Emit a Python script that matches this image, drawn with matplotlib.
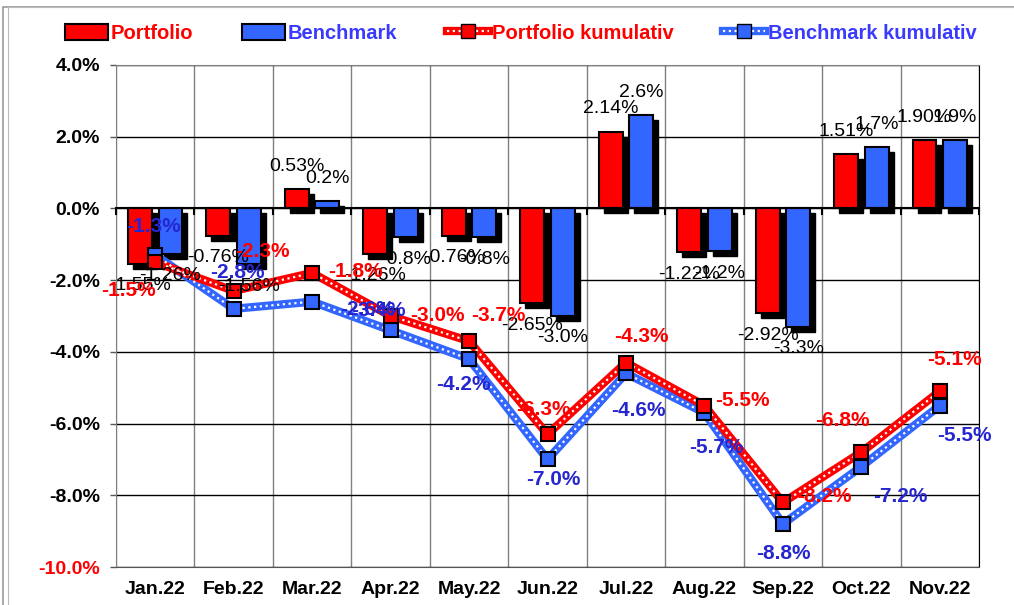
import numpy as np
import matplotlib
matplotlib.use("Agg")
import matplotlib.pyplot as plt
from matplotlib import transforms
from matplotlib.patches import Patch, Rectangle
from matplotlib.lines import Line2D

plt.rcParams['font.family'] = ['Liberation Sans', 'DejaVu Sans']

months = ['Jan.22', 'Feb.22', 'Mar.22', 'Apr.22', 'May.22', 'Jun.22',
          'Jul.22', 'Aug.22', 'Sep.22', 'Oct.22', 'Nov.22']
portfolio = [-1.55, -0.76, 0.53, -1.26, -0.76, -2.65, 2.14, -1.22, -2.92, 1.51, 1.90]
benchmark = [-1.26, -1.56, 0.2, -0.8, -0.8, -3.0, 2.6, -1.2, -3.3, 1.7, 1.9]
portfolio_cum = [-1.5, -2.3, -1.8, -3.0, -3.7, -6.3, -4.3, -5.5, -8.2, -6.8, -5.1]
benchmark_cum = [-1.3, -2.8, -2.6, -3.4, -4.2, -7.0, -4.6, -5.7, -8.8, -7.2, -5.5]

# label offsets in pixels (hand placed in the original)
p_cum_off = [(-27, -28), (29, 39), (43, 1), (47, 0), (29, 26), (-4, 25),
             (15, 26), (38, 5), (41, 6), (-19, 32), (15, 32)]
b_cum_off = [(-2, 29), (4, 36), (55, -8), (-12, 20), (-6, -25), (6, -20),
             (12, -37), (12, -35), (0, -30), (39, -30), (25, -30)]

RED = '#ff0000'
BLUE = '#3366ff'
BLUE_TXT = '#2626d0'

fig = plt.figure(figsize=(10.14, 6.05), dpi=100)
ax = fig.add_axes([0.1144, 0.0628, 0.8511, 0.8298])

x = np.arange(len(months))
w = 0.305
dx = 0.195

shadow = transforms.offset_copy(ax.transData, fig=fig, x=5, y=-5, units='dots')
for xs, vals, col in [(x - dx, portfolio, RED), (x + dx, benchmark, BLUE)]:
    ax.bar(xs, vals, w, color='black', edgecolor='black', transform=shadow, zorder=2)
    ax.bar(xs, vals, w, color=col, edgecolor='black', linewidth=1.5, zorder=3)

ax.axhline(0, color='black', lw=1.5, zorder=4)
for b in np.arange(-0.5, 11, 1):
    ax.plot([b, b], [0, -0.15], color='black', lw=1.5, zorder=4, clip_on=False)

# portfolio labels with two decimals, benchmark with one unless it has two
bar_labels = [(x - dx, portfolio, [f'{v:.2f}%' for v in portfolio]),
              (x + dx, benchmark, [f'{v:.2f}%' if round(v, 1) != v else f'{v:.1f}%'
                                   for v in benchmark])]
for xs, vals, texts in bar_labels:
    for xi, v, t in zip(xs, vals, texts):
        ax.annotate(t, (xi, v), xytext=(0, 23 if v > 0 else -22),
                    textcoords='offset pixels', ha='center', va='center',
                    fontsize=14, color='black', zorder=8)

for vals, col in [(benchmark_cum, BLUE), (portfolio_cum, RED)]:
    ax.plot(x, vals, color=col, lw=6, zorder=5, solid_joinstyle='miter')
    ax.plot(x, vals, color='white', lw=1.6, ls=(0, (1, 1.6)), zorder=6)
    ax.plot(x, vals, ls='none', marker='s', ms=10, mfc=col, mec='black', mew=1.5, zorder=7)

for vals, offs, col in [(portfolio_cum, p_cum_off, RED), (benchmark_cum, b_cum_off, BLUE_TXT)]:
    for xi, v, (ox, oy) in zip(x, vals, offs):
        ax.annotate(f'{v:.1f}%', (xi, v), xytext=(ox, oy), textcoords='offset pixels',
                    ha='center', va='center', fontsize=15, fontweight='bold',
                    color=col, zorder=9)

ax.set_xlim(-0.5, 10.5)
ax.set_ylim(-10, 4)
ax.set_yticks(np.arange(-10, 5, 2))
ax.set_yticklabels([f'{t:.1f}%' for t in np.arange(-10, 5, 2)], fontsize=14, fontweight='bold')
ax.get_yticklabels()[0].set_color(RED)
ax.set_xticks(x)
ax.set_xticklabels(months, fontsize=14, fontweight='bold')
ax.tick_params(axis='x', length=0, pad=10)
ax.tick_params(axis='y', length=4.5, width=1, color='#555555', pad=7)

ax.set_xticks(np.arange(-0.5, 11, 1), minor=True)
ax.grid(True, which='minor', axis='x', color='#808080', lw=1, zorder=0)
ax.grid(True, which='major', axis='y', color='black', lw=1, zorder=0)
ax.tick_params(axis='x', which='minor', length=0)
for s in ['top', 'left']:
    ax.spines[s].set_color('#808080')
ax.spines['right'].set_color('black')
ax.spines['bottom'].set_color('#555555')

# figure frame
fig.patches.append(Rectangle((0.003, -0.01), 1.0, 0.998, transform=fig.transFigure,
                             fill=False, edgecolor='#999999', lw=1.2))
fig.patches.append(Rectangle((0.0075, -0.01), 1.0, 0.998, transform=fig.transFigure,
                             fill=False, edgecolor='#bbbbbb', lw=0.8))

handles = [
    Patch(facecolor=RED, edgecolor='black', lw=1.5),
    Patch(facecolor=BLUE, edgecolor='black', lw=1.5),
    (Line2D([], [], color=RED, lw=6), Line2D([], [], color='white', lw=1.6, ls=(0, (1, 1.6))),
     Line2D([], [], ls='none', marker='s', ms=10, mfc=RED, mec='black')),
    (Line2D([], [], color=BLUE, lw=6), Line2D([], [], color='white', lw=1.6, ls=(0, (1, 1.6))),
     Line2D([], [], ls='none', marker='s', ms=10, mfc=BLUE, mec='black')),
]
labels = ['Portfolio', 'Benchmark', 'Portfolio kumulativ', 'Benchmark kumulativ']
leg = fig.legend(handles, labels, loc='center', bbox_to_anchor=(0.514, 0.945), ncol=4,
                 frameon=False, prop={'size': 14.5, 'weight': 'bold'},
                 handlelength=2.1, handleheight=0.85, handletextpad=0.15, columnspacing=2.45)
for t, c in zip(leg.get_texts(), [RED, '#3a3aff', RED, '#3a3aff']):
    t.set_color(c)

fig.savefig('out.png', dpi=100)
